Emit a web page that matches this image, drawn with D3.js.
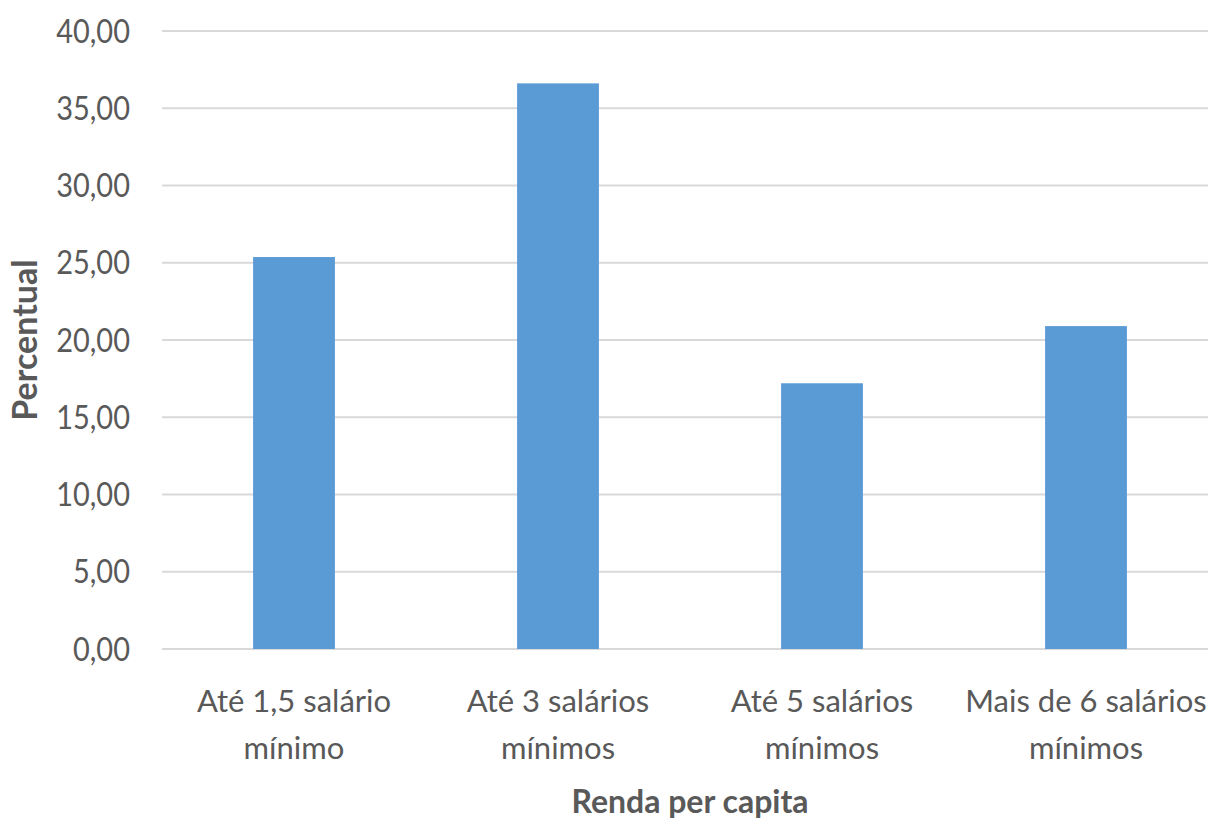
<!DOCTYPE html>
<html>
<head>
<meta charset="utf-8">
<script src="https://cdn.jsdelivr.net/npm/d3@7"></script>
<style>
  html, body { margin: 0; padding: 0; background: #fff; }
  svg { display: block; }
  text { font-family: Lato, "Open Sans", sans-serif; fill: #595959; }
</style>
</head>
<body>
<svg id="chart" width="1208" height="820"></svg>
<script>
// Income bracket categories (two-line labels)
const categories = [
  ["Até 1,5 salário", "mínimo"],
  ["Até 3 salários", "mínimos"],
  ["Até 5 salários", "mínimos"],
  ["Mais de 6 salários", "mínimos"]
];
// Share of respondents per bracket (%)
const values = [25.37, 36.61, 17.20, 20.90];
// Y axis ticks
const yTicks = [0, 5, 10, 15, 20, 25, 30, 35, 40];

const svg = d3.select("#chart");
const plot = { left: 162, right: 1218, top: 31, bottom: 649 };

const keys = categories.map((c, i) => i);
const x = d3.scaleBand()
  .domain(keys)
  .range([plot.left, plot.right])
  .paddingInner(0.69)
  .paddingOuter(0.345);

const y = d3.scaleLinear()
  .domain([0, 40])
  .range([plot.bottom, plot.top]);

const fmt = v => v.toFixed(2).replace(".", ",");

// Gridlines
svg.append("g")
  .selectAll("line")
  .data(yTicks)
  .join("line")
  .attr("x1", plot.left)
  .attr("x2", plot.right)
  .attr("y1", d => y(d))
  .attr("y2", d => y(d))
  .attr("stroke", "#d9d9d9")
  .attr("stroke-width", 2);

// Y tick labels (slightly tall glyphs)
svg.append("g")
  .selectAll("text")
  .data(yTicks)
  .join("text")
  .attr("transform", d => `translate(130,${y(d)}) scale(1,1.12)`)
  .attr("dy", "0.36em")
  .attr("text-anchor", "end")
  .style("font-size", "29px")
  .text(fmt);

// Bars
svg.append("g")
  .selectAll("rect")
  .data(values)
  .join("rect")
  .attr("x", (d, i) => x(i))
  .attr("width", x.bandwidth())
  .attr("y", d => y(d))
  .attr("height", d => y(0) - y(d))
  .attr("fill", "#5b9bd5");

// Category labels
const cat = svg.append("g")
  .selectAll("text")
  .data(categories)
  .join("text")
  .attr("text-anchor", "middle")
  .style("font-size", "31px");
cat.each(function (lines, i) {
  const cx = x(i) + x.bandwidth() / 2;
  d3.select(this).selectAll("tspan")
    .data(lines)
    .join("tspan")
    .attr("x", cx)
    .attr("y", (l, j) => 712 + j * 47)
    .text(l => l);
});

// Axis titles
svg.append("text")
  .attr("x", 690)
  .attr("y", 813)
  .attr("text-anchor", "middle")
  .style("font-size", "32px")
  .style("font-weight", "bold")
  .text("Renda per capita");

svg.append("text")
  .attr("transform", "translate(37,340) rotate(-90)")
  .attr("text-anchor", "middle")
  .style("font-size", "34px")
  .style("font-weight", "bold")
  .text("Percentual");
</script>
</body>
</html>
